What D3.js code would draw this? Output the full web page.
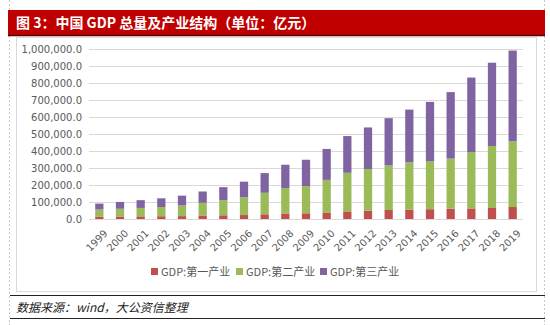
<!DOCTYPE html>
<html><head><meta charset="utf-8">
<script src="https://cdn.jsdelivr.net/npm/d3@7"></script>
<style>body{margin:0;background:#fff;}svg{display:block;font-family:"Microsoft YaHei","Noto Sans CJK SC",sans-serif;}</style>
</head><body>
<script>
const years = ["1999","2000","2001","2002","2003","2004","2005","2006","2007","2008","2009","2010","2011","2012","2013","2014","2015","2016","2017","2018","2019"];
const primary = [14549,14717,15503,16190,16970,20904,21807,23317,27674,32464,33584,38431,44781,49085,53028,55626,57775,60139,62100,64745,70467];
const secondary = [41034,45665,49661,54106,62697,74287,88084,104362,126634,149957,160172,191630,227039,244643,261956,277572,281339,295428,331581,364835,386165];
const tertiary = [34982,39898,45700,51422,57754,66649,77428,91760,115785,136824,154762,182059,216120,244852,277979,310365,349745,390828,438356,489701,534233];
const seriesNames = ["GDP:第一产业","GDP:第二产业","GDP:第三产业"];
const colors = ["#c0504d","#9bbb59","#8064a2"];
const yTicks = [0,100000,200000,300000,400000,500000,600000,700000,800000,900000,1000000];

const W=550,H=325;
const svg=d3.select("body").append("svg").attr("width",W).attr("height",H);

// dotted page frame lines
[9.5,544.5].forEach(x=>svg.append("line").attr("x1",x).attr("x2",x).attr("y1",0).attr("y2",H)
  .attr("stroke","#c8c8c8").attr("stroke-dasharray","2,2").attr("stroke-width",1));

// title bar
svg.append("rect").attr("x",8).attr("y",10).attr("width",537).attr("height",25).attr("fill","#c00000");
svg.append("line").attr("x1",8).attr("x2",545).attr("y1",35.5).attr("y2",35.5).attr("stroke","#5a0000").attr("stroke-width",1.5);
svg.append("text").attr("x",16).attr("y",28).attr("fill","#fff").attr("font-size",14).attr("font-weight","bold")
  .text("图 3：中国 GDP 总量及产业结构（单位：亿元）");

// chart box
svg.append("rect").attr("x",16.5).attr("y",37.5).attr("width",520).attr("height",254).attr("fill","none").attr("stroke","#d9d9d9");

const x=d3.scaleBand().domain(years).range([89,523]).paddingInner(0.6).paddingOuter(0.3);
const y=d3.scaleLinear().domain([0,1000000]).range([219,49]);

// gridlines
svg.append("g").selectAll("line").data(yTicks).join("line")
  .attr("x1",89).attr("x2",523).attr("y1",d=>Math.round(y(d))+0.5).attr("y2",d=>Math.round(y(d))+0.5)
  .attr("stroke","#d9d9d9").attr("stroke-width",1);

// y axis labels
const yAxis=d3.axisLeft(y).tickValues(yTicks).tickSize(0).tickPadding(0).tickFormat(d3.format(",.1f"));
const ya=svg.append("g").attr("transform","translate(82,0)").call(yAxis);
ya.select(".domain").remove();
ya.selectAll("text").attr("fill","#595959").attr("font-family","Verdana,'DejaVu Sans',sans-serif").style("font-size","10px");

// stacked bars
const data=years.map((yr,i)=>({year:yr,s0:primary[i],s1:secondary[i],s2:tertiary[i]}));
const stack=d3.stack().keys(["s0","s1","s2"])(data);
svg.append("g").selectAll("g").data(stack).join("g").attr("fill",(d,i)=>colors[i])
  .selectAll("rect").data(d=>d).join("rect")
  .attr("x",d=>x(d.data.year)).attr("width",x.bandwidth())
  .attr("y",d=>y(d[1])).attr("height",d=>y(d[0])-y(d[1]));

// x axis line
svg.append("line").attr("x1",89).attr("x2",523).attr("y1",219.5).attr("y2",219.5).attr("stroke","#d9d9d9");

// x labels
svg.append("g").selectAll("text").data(years).join("text")
  .attr("transform",d=>`translate(${x(d)+x.bandwidth()/2+4},${229}) rotate(-45)`)
  .attr("text-anchor","end").attr("dy","0.7em").attr("fill","#595959").attr("font-size",10)
  .attr("font-family","Verdana,'DejaVu Sans',sans-serif").text(d=>d);

// legend
const lg=svg.append("g");
const lx=[151,236,320];
seriesNames.forEach((n,i)=>{
  lg.append("rect").attr("x",lx[i]).attr("y",268).attr("width",7).attr("height",7).attr("fill",colors[i]);
  lg.append("text").attr("x",lx[i]+10).attr("y",275.5).attr("fill","#595959").attr("font-size",11).text(n);
});

// source
svg.append("line").attr("x1",10).attr("x2",545).attr("y1",295.5).attr("y2",295.5).attr("stroke","#222").attr("stroke-width",1.2);
svg.append("line").attr("x1",10).attr("x2",545).attr("y1",318.5).attr("y2",318.5).attr("stroke","#222").attr("stroke-width",1.2);
svg.append("text").attr("x",16).attr("y",312).attr("font-size",12).attr("font-style","italic").attr("fill","#222")
  .text("数据来源：wind，大公资信整理");
</script>
</body></html>
